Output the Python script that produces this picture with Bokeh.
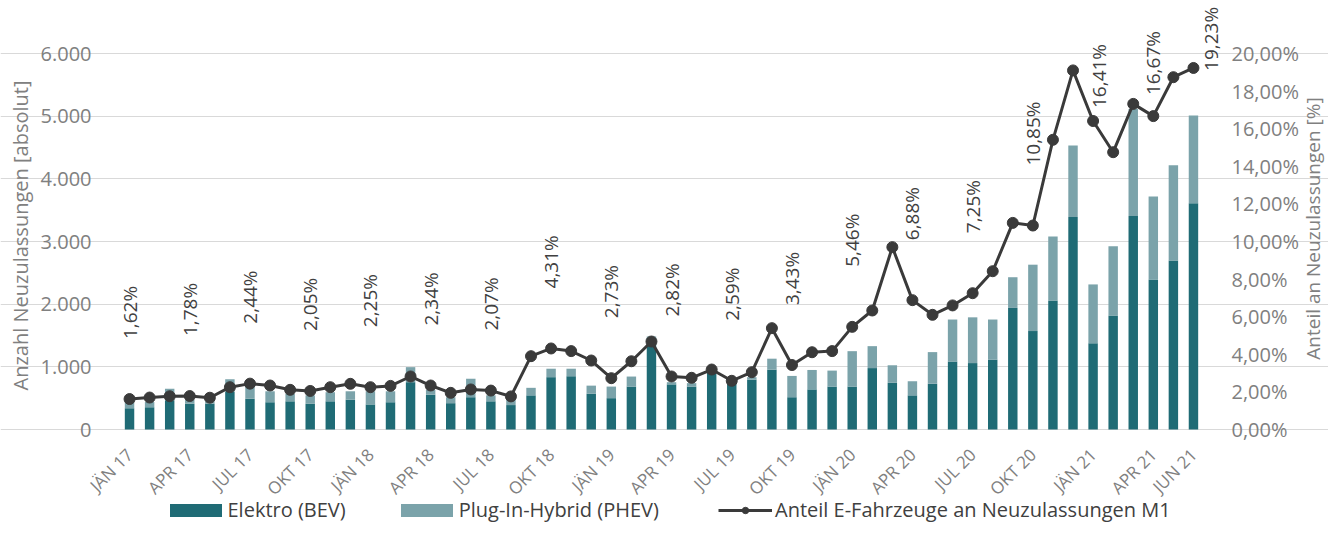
import math
from bokeh.plotting import figure
from bokeh.models import (Range1d, LinearAxis, FixedTicker, ColumnDataSource,
                          LabelSet, Label, Legend, LegendItem)
from bokeh.core.properties import value
from bokeh.embed import file_html
from bokeh.resources import INLINE

# ---------------- data ----------------
months = ["JÄN", "FEB", "MÄR", "APR", "MAI", "JUN", "JUL", "AUG", "SEP", "OKT", "NOV", "DEZ"]
years = ["17", "18", "19", "20", "21"]
categories = [f"{m} {y}" for y in years for m in months][:54]   # Jän 17 .. Jun 21

bev = [340, 355, 465, 410, 410, 600, 490, 435, 450, 410, 450, 475,
       400, 435, 755, 555, 420, 515, 450, 390, 545, 835, 850, 570,
       500, 685, 1465, 720, 685, 915, 730, 795, 955, 515, 640, 685,
       685, 980, 745, 545, 730, 1085, 1060, 1115, 1940, 1570, 2060, 3390,
       1375, 1820, 3405, 2395, 2695, 3610]
phev = [110, 85, 185, 60, 40, 200, 190, 175, 120, 135, 145, 135,
        210, 175, 240, 80, 95, 295, 95, 85, 120, 135, 120, 130,
        185, 160, 20, 35, 55, 25, 25, 40, 175, 340, 310, 255,
        565, 350, 280, 225, 505, 670, 730, 640, 490, 1060, 1020, 1140,
        940, 1105, 1710, 1325, 1520, 1400]
share = [1.62, 1.70, 1.77, 1.78, 1.69, 2.25, 2.44, 2.34, 2.11, 2.05, 2.25, 2.43,
         2.25, 2.32, 2.82, 2.34, 1.95, 2.13, 2.07, 1.76, 3.90, 4.31, 4.17, 3.67,
         2.73, 3.63, 4.68, 2.82, 2.75, 3.19, 2.59, 3.05, 5.39, 3.43, 4.11, 4.17,
         5.46, 6.33, 9.70, 6.88, 6.10, 6.60, 7.25, 8.42, 10.99, 10.85, 15.41, 19.10,
         16.41, 14.75, 17.32, 16.67, 18.74, 19.23]
label_idx = [0, 3, 6, 9, 12, 15, 18, 21, 24, 27, 30, 33, 36, 39, 42, 45, 48, 51, 53]
tick_idx = [0, 3, 6, 9, 12, 15, 18, 21, 24, 27, 30, 33, 36, 39, 42, 45, 48, 51, 53]
abs_ticks = [0, 1000, 2000, 3000, 4000, 5000, 6000]
pct_ticks = [0, 2, 4, 6, 8, 10, 12, 14, 16, 18, 20]
left_title = "Anzahl Neuzulassungen [absolut]"
right_title = "Anteil an Neuzulassungen [%]"

# ---------------- style ----------------
DARK = "#1F6B75"
LIGHT = "#7BA3AA"
LINE = "#3A3A3A"
GRID = "#D9D9D9"
AXIS_TXT = "#808080"
TXT = "#404040"
FONT = "Open Sans"
# pixel nudges (x, y) for the labels that sit near the top edge
label_nudge = {48: (6, 13), 51: (0, 21), 53: (18, -3)}

W, H = 1328, 523
FR_L, FR_R = 119, 1203          # plot-area left/right (px)
Y0_PX, Y6K_PX = 429, 53         # pixel rows of 0 and 6000
n = len(bev)
ppx = (FR_R - FR_L) / n
x_lo = -0.5 - FR_L / ppx
x_hi = n - 0.5 + (W - FR_R) / ppx
ppu = (Y0_PX - Y6K_PX) / abs_ticks[-1]
y_lo = -(H - Y0_PX) / ppu
y_hi = abs_ticks[-1] + Y6K_PX / ppu
k = pct_ticks[-1] / abs_ticks[-1]

# ---------------- figure ----------------
p = figure(width=W, height=H, x_range=Range1d(x_lo, x_hi), y_range=Range1d(y_lo, y_hi),
           output_backend="svg", toolbar_location=None,
           min_border_left=0, min_border_right=0, min_border_top=0, min_border_bottom=0)
p.extra_y_ranges = {"pct": Range1d(y_lo * k, y_hi * k)}
p.outline_line_color = None
p.background_fill_color = "white"
p.border_fill_color = "white"
p.xgrid.grid_line_color = None
p.ygrid.grid_line_color = GRID
p.ygrid.grid_line_width = 1
p.ygrid.ticker = FixedTicker(ticks=abs_ticks)
p.ygrid.bounds = (-0.5, n - 0.5)
p.xaxis.visible = False

src = ColumnDataSource(dict(x=list(range(n)), bev=bev, phev=phev, share=share))

bars = p.vbar_stack(["bev", "phev"], x="x", width=0.47, color=[DARK, LIGHT],
                    line_width=0, source=src)
ln = p.line("x", "share", y_range_name="pct", line_color=LINE, line_width=3, source=src)
pts = p.scatter("x", "share", y_range_name="pct", size=11, fill_color=LINE,
                line_color=LINE, source=src)

# data labels
lsrc = ColumnDataSource(dict(
    x=label_idx,
    y=[share[i] for i in label_idx],
    t=[f"{share[i]:.2f}".replace(".", ",") + "%" for i in label_idx],
    dx=[label_nudge.get(i, (0, 60))[0] for i in label_idx],
    dy=[label_nudge.get(i, (0, 60))[1] for i in label_idx]))
p.add_layout(LabelSet(x="x", y="y", text="t", source=lsrc, y_range_name="pct",
                      x_offset="dx", y_offset="dy", angle=math.pi / 2,
                      text_align="left", text_baseline="middle",
                      text_font=value(FONT), text_font_size="19px", text_color=TXT))

# category labels (x axis)
tsrc = ColumnDataSource(dict(x=tick_idx, y=[0] * len(tick_idx),
                             t=[categories[i] for i in tick_idx]))
p.add_layout(LabelSet(x="x", y="y", text="t", source=tsrc, x_offset=0, y_offset=-22,
                      angle=math.pi / 4, text_align="right", text_baseline="middle",
                      text_font=value(FONT), text_font_size="17px", text_color=AXIS_TXT))

# left axis (labels end 22px left of the plot area)
ya = p.yaxis[0]
ya.ticker = FixedTicker(ticks=abs_ticks)
ya.major_label_overrides = {v: f"{v:,}".replace(",", ".") for v in abs_ticks}
ya.major_label_text_font = FONT
ya.major_label_text_font_size = "20px"
ya.major_label_text_color = AXIS_TXT
ya.major_tick_line_color = None
ya.minor_tick_line_color = None
ya.axis_line_color = None
ya.major_label_standoff = -(FR_L - 22)

# right axis
ra = LinearAxis(y_range_name="pct", ticker=FixedTicker(ticks=pct_ticks))
ra.major_label_overrides = {v: f"{v:.2f}".replace(".", ",") + "%" for v in pct_ticks}
ra.major_label_text_font = FONT
ra.major_label_text_font_size = "20px"
ra.major_label_text_color = AXIS_TXT
ra.major_tick_line_color = None
ra.minor_tick_line_color = None
ra.axis_line_color = None
ra.major_label_standoff = -(W - FR_R - 22)
p.add_layout(ra, "right")

# axis titles
p.add_layout(Label(x=20, y=H - 235, x_units="screen", y_units="screen", text=left_title,
                   angle=math.pi / 2, text_align="center", text_baseline="middle",
                   text_font=FONT, text_font_size="20px", text_color=AXIS_TXT))
p.add_layout(Label(x=1312, y=H - 228, x_units="screen", y_units="screen", text=right_title,
                   angle=math.pi / 2, text_align="center", text_baseline="middle",
                   text_font=FONT, text_font_size="19px", text_color=AXIS_TXT))

# legends
def make_legend(items, loc, gw, gh, standoff, spacing):
    lg = Legend(items=[LegendItem(label=l, renderers=r) for l, r in items], location=loc,
                orientation="horizontal", background_fill_alpha=0, border_line_color=None,
                padding=0, margin=0, spacing=spacing, glyph_width=gw, glyph_height=gh,
                label_standoff=standoff, label_text_font=FONT, label_text_font_size="20px",
                label_text_color=TXT, label_height=16)
    p.add_layout(lg)

make_legend([("Elektro (BEV)", [bars[0]]), ("Plug-In-Hybrid (PHEV)", [bars[1]])],
            (169 - 6.5, 0), 65, 16, 0, 48)
make_legend([("Anteil E-Fahrzeuge an Neuzulassungen M1", [ln, pts])],
            (718, 0), 54, 16, 3, 0)

open("out.html", "w").write(file_html(p, INLINE))
